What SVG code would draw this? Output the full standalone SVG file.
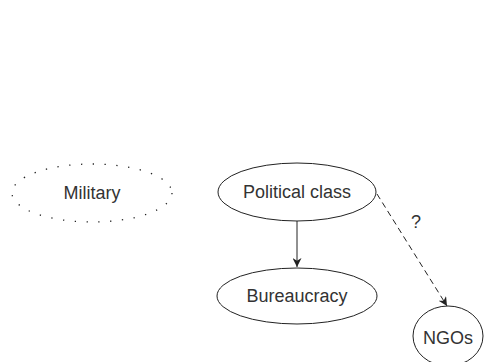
<svg xmlns="http://www.w3.org/2000/svg" width="484" height="362" viewBox="0 0 484 362">
<style>
.n{fill:#fff;stroke:#222;stroke-width:1}
.t{font-family:"Liberation Sans",Arial,sans-serif;font-size:18px;fill:#333;text-anchor:middle;dominant-baseline:central}
.c{stroke:#222;stroke-width:1;fill:none}
</style>
<defs>
<marker id="ah" viewBox="0 0 10 10" refX="10" refY="5" markerWidth="9" markerHeight="9" markerUnits="userSpaceOnUse" orient="auto">
<path d="M0,0 L10,5 L0,10 L3,5 Z" fill="#222"/>
</marker>
</defs>
<rect width="484" height="362" fill="#fff"/>
<g id="connectors">
<line class="c" x1="297" y1="221" x2="297" y2="267" marker-end="url(#ah)"/>
<line class="c" x1="377" y1="194" x2="447" y2="306" stroke-dasharray="6 4" marker-end="url(#ah)"/>
<text class="t" x="416" y="222">?</text>
</g>
<g id="military">
<ellipse cx="92" cy="193" rx="80" ry="29" fill="#fff" stroke="#222" stroke-width="1.3" stroke-dasharray="1.3 10.5"/>
<text class="t" x="92" y="193">Military</text>
</g>
<g id="political">
<ellipse class="n" cx="297" cy="192" rx="79" ry="29"/>
<text class="t" x="297" y="192">Political class</text>
</g>
<g id="bureaucracy">
<ellipse class="n" cx="297" cy="296" rx="80" ry="28"/>
<text class="t" x="297" y="296">Bureaucracy</text>
</g>
<g id="ngos">
<ellipse class="n" cx="448" cy="336" rx="35" ry="30"/>
<text class="t" x="448" y="338">NGOs</text>
</g>
</svg>
